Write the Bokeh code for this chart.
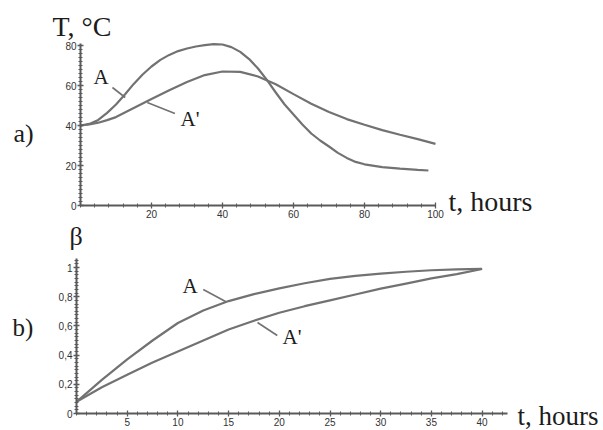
from bokeh.plotting import figure
from bokeh.layouts import column
from bokeh.models import Label, Range1d, FixedTicker
from bokeh.embed import file_html
from bokeh.resources import INLINE

# ---- panel a) temperature vs time ----
t_a_A = [0, 2.5, 5, 7.5, 10, 12.5, 15, 17.5, 20, 22.5, 25, 27.5, 30, 32.5, 35, 37.5, 40, 42.5,
         45, 47.5, 50, 52.5, 55, 57.5, 60, 62.5, 65, 67.5, 70, 72.5, 75, 77.5, 80, 85, 90, 95, 98]
T_A = [40, 40.8, 42.8, 46.3, 50.5, 55.5, 60.8, 65.5, 69.5, 72.8, 75.3, 77.2, 78.5, 79.5, 80.2, 80.7, 80.5, 79.2,
       76.8, 73.2, 68.5, 62.8, 56.5, 50.5, 45.5, 40.5, 36, 32.5, 29.5, 26.3, 23.8, 21.8, 20.6, 19.2, 18.4, 17.8, 17.5]
t_a_Ap = [0, 2.5, 5, 7.5, 10, 15, 20, 25, 30, 35, 40, 45, 50, 55, 60, 65, 70, 75, 80, 85, 90, 95, 100]
T_Ap = [40, 40.5, 41.4, 42.7, 44.2, 48.7, 53.2, 57.6, 61.7, 65.2, 67, 66.8, 64.5, 60.6, 55.7, 50.9, 46.8, 43.2,
        40.4, 37.7, 35.4, 33.2, 30.8]
a_xticks = [20, 40, 60, 80, 100]
a_yticks = [0, 20, 40, 60, 80]

# ---- panel b) beta vs time ----
t_b = [0, 2.5, 5, 7.5, 10, 12.5, 15, 17.5, 20, 22.5, 25, 27.5, 30, 32.5, 35, 37.5, 40]
beta_A = [0.08, 0.23, 0.37, 0.50, 0.62, 0.705, 0.77, 0.818, 0.857, 0.892, 0.922, 0.943, 0.958, 0.971, 0.981, 0.987, 0.99]
beta_Ap = [0.08, 0.18, 0.265, 0.35, 0.425, 0.50, 0.575, 0.635, 0.69, 0.735, 0.775, 0.815, 0.855, 0.89, 0.925, 0.955, 0.99]
b_xticks = [5, 10, 15, 20, 25, 30, 35, 40]
b_yticks = [0, 0.2, 0.4, 0.6, 0.8, 1.0]
b_ylabels = ["0", "0,2", "0,4", "0,6", "0,8", "1"]

CURVE = "#727272"
AXIS = "#5a5a5a"
TXT = "#1c1c1c"
SERIF = "Liberation Serif"
TICKFONT = "Liberation Sans"
DY = 7  # baseline correction for label placement


def style_axes(p, xmajor, xminor, xbounds, ymajor, yminor, ybounds):
    p.xaxis.ticker = FixedTicker(ticks=xmajor, minor_ticks=xminor)
    p.yaxis.ticker = FixedTicker(ticks=ymajor, minor_ticks=yminor)
    p.xaxis.fixed_location = 0
    p.yaxis.fixed_location = 0
    p.xaxis.bounds = xbounds
    p.yaxis.bounds = ybounds
    for ax in (p.xaxis, p.yaxis):
        ax.axis_line_color = AXIS
        ax.axis_line_width = 2
        ax.major_tick_line_color = AXIS
        ax.minor_tick_line_color = AXIS
        ax.major_tick_line_width = 1.3
        ax.minor_tick_line_width = 1
        ax.major_tick_in = 3
        ax.major_tick_out = 3
        ax.minor_tick_in = 2
        ax.minor_tick_out = 2
        ax.major_label_text_font = TICKFONT
        ax.major_label_text_font_size = "10px"
        ax.major_label_text_color = "#333333"
    p.xaxis.major_label_standoff = 1
    p.yaxis.major_label_standoff = 1
    p.xgrid.visible = False
    p.ygrid.visible = False
    p.outline_line_color = None


def add_text(p, x, y, text, size):
    p.add_layout(Label(x=x, y=y - DY, x_units="canvas", y_units="canvas", text=text,
                       text_font=SERIF, text_font_size=size, text_color=TXT,
                       text_align="left", text_baseline="alphabetic"))


W = 603
HA = 222
HB = 208

# panel a: t=0 at x=80px, 3.55 px per hour; T=0 at y=205px, 2 px per degree
ax0, axk = 80, 3.55
ay0, ayk = 205, 2.0
pa = figure(width=W, height=HA, output_backend="svg", toolbar_location=None,
            x_range=Range1d(-ax0 / axk, (W - ax0) / axk),
            y_range=Range1d(-(HA - ay0) / ayk, ay0 / ayk),
            min_border=0)
style_axes(pa, a_xticks, list(range(0, 101, 4)), (0, 100), a_yticks, list(range(0, 81, 2)), (0, 81))
pa.line(t_a_A, T_A, line_color=CURVE, line_width=2.2)
pa.line(t_a_Ap, T_Ap, line_color=CURVE, line_width=2.2)
# leader lines
pa.line([9.0, 12.6], [59, 54], line_color=CURVE, line_width=1.6)
pa.line([18.8, 26.6], [51.5, 46], line_color=CURVE, line_width=1.6)
add_text(pa, 52, 33, "T, °C", "28px")
add_text(pa, 13, 140, "a)", "26px")
add_text(pa, 93, 83, "A", "21px")
add_text(pa, 180, 125, "A'", "21px")
add_text(pa, 448, 208, "t, hours", "28px")

# panel b: t=0 at x=76px, 10.14 px per hour; beta=0 at y=413px (page), 146 px per unit
bx0, bxk = 76, 10.14
by0, byk = 413 - HA, 146.0
pb = figure(width=W, height=HB, output_backend="svg", toolbar_location=None,
            x_range=Range1d(-bx0 / bxk, (W - bx0) / bxk),
            y_range=Range1d(-(HB - by0) / byk, by0 / byk),
            min_border=0)
style_axes(pb, b_xticks, list(range(0, 43, 1)), (0, 42.5), b_yticks, [i * 0.025 for i in range(43)], (0, 1.06))
pb.yaxis.major_label_overrides = {v: s for v, s in zip(b_yticks, b_ylabels)}
pb.line(t_b, beta_A, line_color=CURVE, line_width=2.2)
pb.line(t_b, beta_Ap, line_color=CURVE, line_width=2.2)
pb.line([12.5, 14.7], [0.849, 0.767], line_color=CURVE, line_width=1.6)
pb.line([17.85, 19.8], [0.623, 0.534], line_color=CURVE, line_width=1.6)
add_text(pb, 69, 243 - HA, "β", "26px")
add_text(pb, 12, 334 - HA, "b)", "25px")
add_text(pb, 182, 292 - HA, "A", "21px")
add_text(pb, 282, 343 - HA, "A'", "21px")
add_text(pb, 517, 422 - HA, "t, hours", "27px")

layout = column(pa, pb, spacing=0)
open("out.html", "w").write(file_html(layout, INLINE))
